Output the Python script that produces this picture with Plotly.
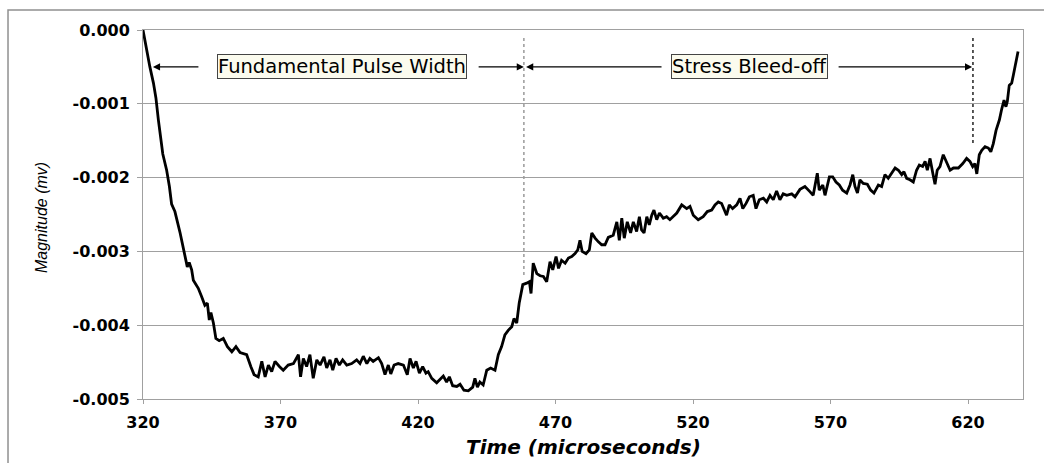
import plotly.graph_objects as go

time_us = [
    320.0, 321.0, 322.5, 323.8, 324.7, 325.6, 327.2, 328.6, 329.6, 330.4, 331.6, 333.5, 335.3, 336.1, 336.8,
    337.7, 338.3, 340.1, 341.3, 342.5, 343.4, 344.1, 344.7, 345.6, 346.5, 347.7, 349.2, 350.7, 352.3, 353.8,
    355.3, 357.7, 359.2, 360.4, 361.9, 363.2, 364.4, 365.6, 366.8, 368.0, 369.6, 371.0, 372.8, 374.7, 376.5,
    377.3, 378.3, 379.5, 380.7, 381.9, 383.2, 384.4, 385.8, 386.8, 388.0, 389.0, 390.2, 391.4, 392.6, 394.1,
    395.9, 397.7, 398.9, 400.1, 401.4, 402.5, 403.7, 405.6, 406.8, 408.0, 409.2, 410.1, 411.3, 412.8, 414.7,
    416.1, 417.1, 418.3, 419.3, 420.5, 421.7, 422.9, 423.7, 425.0, 426.8, 428.3, 429.2, 430.4, 431.4, 432.6,
    434.1, 435.3, 436.7, 438.3, 439.9, 440.7, 441.6, 442.5, 443.7, 445.0, 446.4, 448.0, 449.2, 450.4, 451.6,
    452.8, 454.1, 454.9, 455.9, 456.8, 457.7, 458.1, 459.5, 460.5, 461.1, 461.9, 463.2, 464.4, 465.6, 466.8,
    468.0, 469.0, 470.2, 471.1, 472.2, 473.5, 474.7, 475.9, 477.1, 478.1, 478.9, 479.7, 481.1, 482.3, 483.2,
    484.4, 485.6, 486.8, 488.0, 489.2, 491.0, 492.3, 493.2, 494.1, 495.0, 496.1, 497.3, 498.3, 499.5, 500.5,
    501.3, 502.2, 503.2, 504.1, 505.0, 505.8, 506.8, 507.8, 509.2, 510.4, 511.6, 512.8, 514.1, 515.9, 517.7,
    518.9, 520.1, 521.9, 523.7, 525.2, 526.8, 528.0, 529.2, 530.4, 531.3, 532.2, 533.2, 534.4, 535.9, 537.1,
    538.1, 539.3, 540.5, 541.9, 542.9, 544.1, 545.6, 546.8, 548.0, 549.2, 550.4, 551.6, 552.8, 554.1, 555.9,
    557.1, 558.9, 560.7, 562.5, 563.7, 565.2, 565.9, 567.2, 568.0, 569.6, 570.8, 572.0, 573.2, 574.4, 575.9,
    577.1, 578.1, 578.9, 579.8, 580.7, 581.9, 583.4, 584.6, 585.8, 587.4, 588.6, 589.8, 591.0, 592.3, 593.5,
    594.7, 595.9, 596.7, 597.7, 598.9, 600.1, 601.3, 602.3, 603.5, 604.4, 605.2, 606.2, 607.2, 608.0, 608.8,
    609.8, 611.0, 612.3, 613.5, 614.7, 616.5, 618.1, 619.5, 620.7, 621.7, 622.5, 623.2, 624.1, 625.0, 626.2,
    627.4, 628.3, 629.2, 630.2, 631.4, 632.2, 633.1, 633.8, 634.3, 635.0, 635.9, 636.5, 637.1, 637.7, 638.2,
]

magnitude_mv = [
    0.0, -0.00022, -0.0005, -0.00072, -0.00092, -0.00122, -0.00168, -0.0019, -0.00212, -0.00236, -0.00246, -0.00275, -0.00305, -0.00321, -0.00315,
    -0.00325, -0.00339, -0.0035, -0.00361, -0.00373, -0.0037, -0.00393, -0.00383, -0.00397, -0.00418, -0.00421, -0.00418, -0.00429, -0.00436, -0.00429,
    -0.00437, -0.0044, -0.00456, -0.00467, -0.0047, -0.00449, -0.0047, -0.00454, -0.00463, -0.00449, -0.00456, -0.00461, -0.00454, -0.00452, -0.0044,
    -0.0047, -0.00445, -0.00456, -0.0044, -0.00472, -0.00447, -0.00454, -0.00443, -0.00458, -0.00447, -0.00461, -0.00445, -0.00454, -0.00447, -0.00454,
    -0.00452, -0.00447, -0.00452, -0.00442, -0.00452, -0.00445, -0.00449, -0.00444, -0.00452, -0.00467, -0.00454, -0.00466, -0.00454, -0.00452, -0.00454,
    -0.00467, -0.00445, -0.00458, -0.00449, -0.00465, -0.00456, -0.00465, -0.00463, -0.00472, -0.00478, -0.00472, -0.00469, -0.00477, -0.0047, -0.00482,
    -0.00483, -0.0048, -0.00488, -0.00489, -0.00484, -0.00472, -0.00484, -0.00477, -0.00481, -0.00461, -0.00458, -0.00461, -0.0044, -0.00429, -0.00413,
    -0.00407, -0.00402, -0.00391, -0.00397, -0.0037, -0.0035, -0.00345, -0.00343, -0.00341, -0.00357, -0.00316, -0.0033, -0.00333, -0.00334, -0.00341,
    -0.00314, -0.00325, -0.00307, -0.00323, -0.00312, -0.00316, -0.00309, -0.00307, -0.00303, -0.00298, -0.00285, -0.003, -0.00303, -0.00298, -0.00275,
    -0.00282, -0.00287, -0.00291, -0.00291, -0.00281, -0.00278, -0.0026, -0.00285, -0.00255, -0.00282, -0.0026, -0.00275, -0.0026, -0.00273, -0.00253,
    -0.00271, -0.00275, -0.00253, -0.00264, -0.00251, -0.00244, -0.00257, -0.00248, -0.00255, -0.00253, -0.00257, -0.00253, -0.00248, -0.00237, -0.00242,
    -0.00239, -0.00251, -0.00257, -0.00253, -0.00246, -0.00244, -0.00237, -0.00233, -0.00235, -0.00242, -0.00251, -0.00237, -0.00242, -0.00237, -0.00228,
    -0.00242, -0.00235, -0.00226, -0.00224, -0.00242, -0.0023, -0.00228, -0.00233, -0.00224, -0.0023, -0.00218, -0.0023, -0.00222, -0.00224, -0.00222,
    -0.00226, -0.00216, -0.00212, -0.00219, -0.00224, -0.00194, -0.00217, -0.0021, -0.00224, -0.00199, -0.00199, -0.00206, -0.0021, -0.00217, -0.00221,
    -0.0021, -0.00196, -0.00212, -0.00221, -0.00203, -0.00208, -0.00209, -0.00217, -0.00221, -0.0021, -0.00212, -0.00196, -0.00201, -0.00194, -0.00187,
    -0.0019, -0.00196, -0.00192, -0.00201, -0.00203, -0.00206, -0.0019, -0.00183, -0.00185, -0.00178, -0.0019, -0.00174, -0.00194, -0.00209, -0.0019,
    -0.00185, -0.00169, -0.00181, -0.0019, -0.00187, -0.00187, -0.00181, -0.00174, -0.00178, -0.00185, -0.00181, -0.00195, -0.00169, -0.00163, -0.00158,
    -0.0016, -0.00165, -0.00154, -0.00136, -0.00122, -0.00108, -0.00095, -0.00104, -0.00097, -0.00075, -0.00072, -0.00061, -0.0005, -0.00034, -0.00029,
]

x_ticks = [320, 370, 420, 470, 520, 570, 620]
x_tick_labels = ["320", "370", "420", "470", "520", "570", "620"]
y_ticks = [0.0, -0.001, -0.002, -0.003, -0.004, -0.005]
y_tick_labels = ["0.000", "-0.001", "-0.002", "-0.003", "-0.004", "-0.005"]

pulse_start, pulse_end, bleed_end = 323.6, 458.5, 621.8
label_y = -0.0005

fig = go.Figure()
fig.add_trace(go.Scatter(x=time_us, y=magnitude_mv, mode="lines",
                         line=dict(color="black", width=2.8), showlegend=False, hoverinfo="skip"))

tick_font = dict(family="DejaVu Sans", size=16, color="black", weight="bold")
fig.update_layout(
    width=1044, height=463,
    margin=dict(l=143, r=21, t=30, b=64),
    paper_bgcolor="white", plot_bgcolor="white",
    xaxis=dict(range=[320, 640], tickvals=x_ticks, ticktext=x_tick_labels, showgrid=False,
               zeroline=False, showline=True, linecolor="#a0a0a0", linewidth=1, mirror=True,
               ticks="outside", ticklen=4, tickcolor="#a0a0a0", tickfont=tick_font, ticklabelstandoff=5),
    yaxis=dict(range=[-0.005, 0.0], tickvals=y_ticks, ticktext=y_tick_labels, showgrid=True,
               gridcolor="#a0a0a0", gridwidth=1, zeroline=False, showline=True, linecolor="#a0a0a0",
               linewidth=1, mirror=True, ticks="outside", ticklen=5, tickcolor="#a0a0a0",
               tickfont=tick_font, ticklabelstandoff=4),
)

# outer frame (left and top edges)
fig.add_shape(type="rect", xref="paper", yref="paper", x0=-0.1534, x1=1.04, y0=-0.2, y1=1.0542,
              line=dict(color="#909090", width=1.5), fillcolor="rgba(0,0,0,0)", layer="below")

# vertical dotted markers
fig.add_shape(type="line", x0=pulse_end, x1=pulse_end, y0=-0.00011, y1=-0.00335,
              line=dict(color="#9a9a9a", width=1.5, dash="dot"))
fig.add_shape(type="line", x0=bleed_end, x1=bleed_end, y0=-0.00011, y1=-0.00156,
              line=dict(color="#222222", width=1.5, dash="dot"))

# arrows (head at x, tail at ax)
arrows = [(pulse_start, 340.7), (pulse_end, 441.5), (459.3, 509.1), (bleed_end - 0.3, 572.4)]
for head, tail in arrows:
    fig.add_annotation(x=head, y=label_y, ax=tail, ay=label_y, axref="x", ayref="y", text="",
                       showarrow=True, arrowhead=2, arrowsize=1.3, arrowwidth=1.1,
                       arrowcolor="black", standoff=0, startstandoff=0)

box_font = dict(family="DejaVu Sans", size=19.5, color="black")
fig.add_annotation(x=392.4, y=label_y, text="Fundamental Pulse Width", showarrow=False,
                   font=box_font, bgcolor="#fbfbee", bordercolor="#444444", borderwidth=1, borderpad=0)
fig.add_annotation(x=540.7, y=label_y, text="Stress Bleed-off", showarrow=False,
                   font=box_font, bgcolor="#fbfbee", bordercolor="#444444", borderwidth=1, borderpad=0)

# axis titles
fig.add_annotation(xref="paper", yref="paper", x=0.5, y=-0.130, text="Time (microseconds)",
                   showarrow=False, xanchor="center", yanchor="middle",
                   font=dict(family="DejaVu Sans", size=20, color="black", weight="bold", style="italic"))
fig.add_annotation(xref="paper", yref="paper", x=-0.1159, y=0.4905, text="Magnitude (mv)",
                   showarrow=False, textangle=-90, xanchor="center", yanchor="middle",
                   font=dict(family="Liberation Sans", size=16, color="black", style="italic"))

fig.write_html("out.html")
